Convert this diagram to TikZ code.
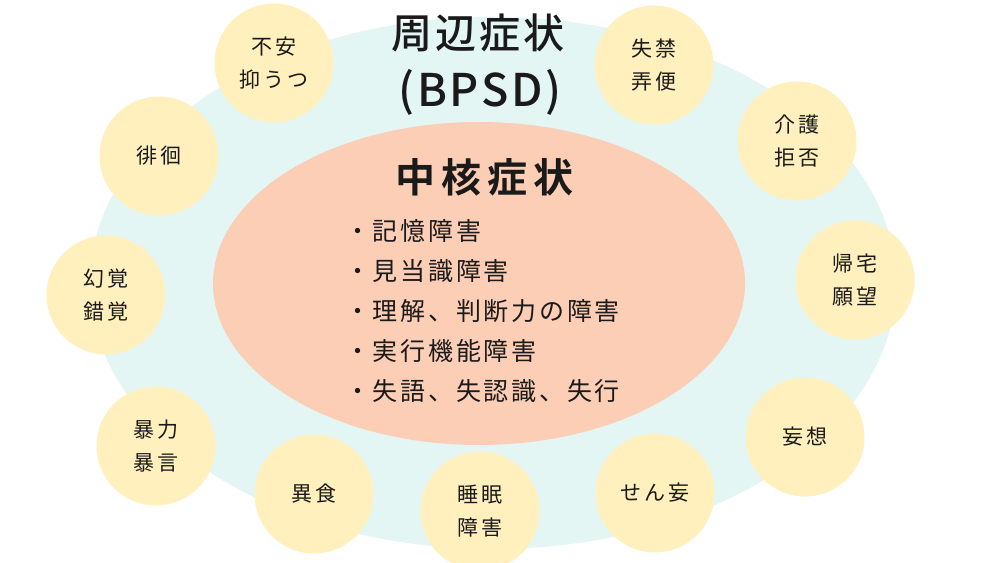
\documentclass[tikz,border=0pt]{standalone}
\usepackage{fontspec}
\usetikzlibrary{shapes.geometric}
\setmainfont{Noto Sans CJK JP}[BoldFont={Noto Sans CJK JP Bold}]
\newfontfamily\jpmed{Noto Sans CJK JP Medium}
\definecolor{outercol}{HTML}{E3F6F4}
\definecolor{innercol}{HTML}{FDCEB6}
\definecolor{bubcol}{HTML}{FFF0BE}
\definecolor{txtcol}{HTML}{1A1A1A}
\tikzset{
  bub/.style={circle, fill=bubcol, minimum size=119pt, inner sep=0pt, align=center, text=txtcol,
    font=\fontsize{21}{33}\selectfont\addfontfeatures{LetterSpace=12}},
  lst/.style={anchor=west, inner sep=0pt, text=txtcol,
    font=\fontsize{25}{30}\selectfont\addfontfeatures{LetterSpace=11}},
  head/.style={inner sep=0pt, text=txtcol}
}
\begin{document}
\begin{tikzpicture}[x=1pt,y=-1pt]
\fill[white] (0,0) rectangle (1000,562);
\useasboundingbox (0,0) rectangle (1000,562);
% ellipses
\node[ellipse, fill=outercol, minimum width=806pt, minimum height=532pt, inner sep=0pt, draw=none] (outer) at (493,283) {};
\node[ellipse, fill=innercol, minimum width=532pt, minimum height=323pt, inner sep=0pt, draw=none] (inner) at (479,283.5) {};
% headings
\node[head, font=\jpmed\fontsize{41}{41}\selectfont\addfontfeatures{LetterSpace=7}] (t1) at (478,33) {周辺症状};
\node[head, font=\jpmed\fontsize{45}{45}\selectfont\addfontfeatures{LetterSpace=6}] (t2) at (480,92) {(BPSD)};
\node[head, font=\bfseries\fontsize{40}{40}\selectfont\addfontfeatures{LetterSpace=15}] (t3) at (484,177) {中核症状};
% list
\node[lst] (l1) at (345,231) {・記憶障害};
\node[lst] (l2) at (345,271) {・見当識障害};
\node[lst] (l3) at (345,311) {・理解、判断力の障害};
\node[lst] (l4) at (345,351) {・実行機能障害};
\node[lst] (l5) at (345,391) {・失語、失認識、失行};
% bubbles
\node[bub] (c1) at (274,63) {不安\\抑うつ};
\node[bub] (c2) at (654,65) {失禁\\弄便};
\node[bub] (c3) at (159,156) {徘徊};
\node[bub] (c4) at (797,141) {介護\\拒否};
\node[bub] (c5) at (106,295) {幻覚\\錯覚};
\node[bub] (c6) at (855,280) {帰宅\\願望};
\node[bub] (c7) at (156,446) {暴力\\暴言};
\node[bub] (c8) at (805,437) {妄想};
\node[bub] (c9) at (314,494) {異食};
\node[bub] (c10) at (480,511) {睡眠\\障害};
\node[bub] (c11) at (655,493) {せん妄};
\end{tikzpicture}
\end{document}
